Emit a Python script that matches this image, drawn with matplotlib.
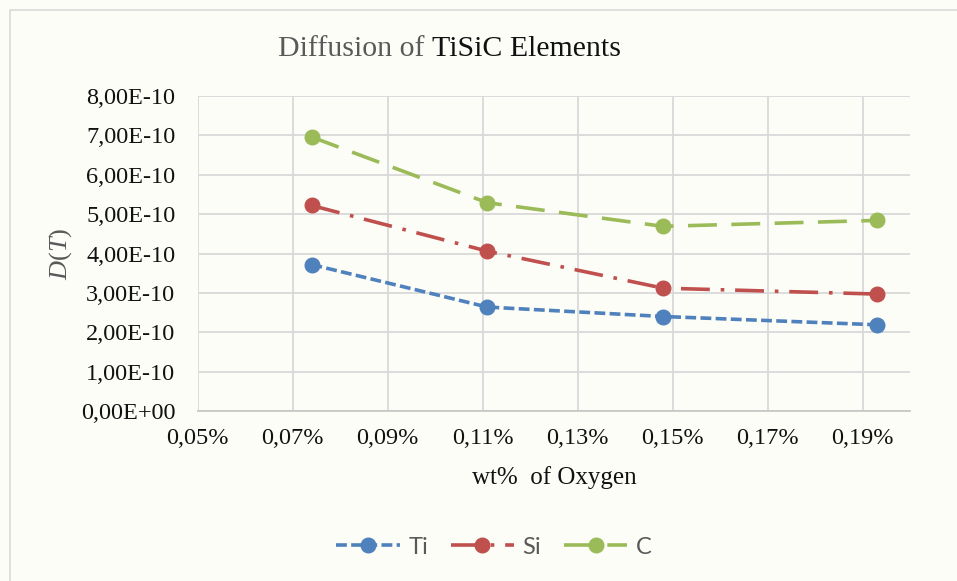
import matplotlib
matplotlib.use("Agg")
import matplotlib.pyplot as plt
from matplotlib.ticker import FuncFormatter, MultipleLocator
from matplotlib.patches import Rectangle

# data
oxygen = [0.074, 0.111, 0.148, 0.193]          # wt% of oxygen
d_ti = [3.72e-10, 2.64e-10, 2.40e-10, 2.19e-10]
d_si = [5.22e-10, 4.06e-10, 3.12e-10, 2.97e-10]
d_c = [6.96e-10, 5.29e-10, 4.69e-10, 4.84e-10]
labels = ["Ti", "Si", "C"]

plt.rcParams["font.family"] = ["Liberation Serif", "DejaVu Serif"]
plt.rcParams["mathtext.fontset"] = "custom"
plt.rcParams["mathtext.rm"] = "Liberation Serif"
plt.rcParams["mathtext.it"] = "Liberation Serif:italic"

bg = "#fdfdf8"
fig = plt.figure(figsize=(9.57, 5.81), dpi=100, facecolor=bg)
W, H = 957, 581
ax = fig.add_axes([197.5 / W, 1 - 411 / H, (910 - 197.5) / W, (411 - 96) / H])
ax.set_facecolor(bg)

# chart border (only left/top visible in the reference)
fig.patches.append(Rectangle((10 / W, -0.1), 1.2, 1 - 10 / H + 0.1,
                             transform=fig.transFigure, fill=False,
                             edgecolor="#d9d9d9", linewidth=1.2))

lw = 2.6
ms = 10.5
ax.plot(oxygen, d_ti, color="#4f81bd", lw=lw, ls=(0, (3, 1.2)), marker="o", ms=ms, label=labels[0])
ax.plot(oxygen, d_si, color="#c0504d", lw=lw, ls=(0, (8, 3, 1, 3)), marker="o", ms=ms, label=labels[1])
ax.plot(oxygen, d_c, color="#9bbb59", lw=lw, ls=(0, (8, 4)), marker="o", ms=ms, label=labels[2])

ax.set_xlim(0.05, 0.20)
ax.set_ylim(0, 8e-10)
ax.yaxis.set_major_locator(MultipleLocator(1e-10))
ax.xaxis.set_major_formatter(FuncFormatter(lambda v, p: f"{v:.2f}%".replace(".", ",")))
ax.yaxis.set_major_formatter(FuncFormatter(lambda v, p: f"{v:.2E}".replace(".", ",")))
ax.set_xticks([0.05, 0.07, 0.09, 0.11, 0.13, 0.15, 0.17, 0.19])

ax.grid(True, color="#d9d9d9", lw=1.3)
ax.set_axisbelow(True)
for s in ["top", "right", "left"]:
    ax.spines[s].set_visible(False)
ax.spines["bottom"].set_color("#c8c8c8")
ax.spines["bottom"].set_linewidth(1.3)
ax.tick_params(length=0, labelsize=17.5, colors="#111111")
ax.tick_params(axis="y", pad=16)
ax.tick_params(axis="x", pad=12)

# title in two colours
t1 = fig.text(278 / W, 1 - 56 / H, "Diffusion of ", fontsize=21.5, color="#595959", ha="left", va="baseline")
fig.canvas.draw()
ax.annotate("TiSiC Elements", xy=(1, 0), xycoords=t1, fontsize=21.5, color="#111111",
            ha="left", va="bottom", annotation_clip=False)

fig.text(554 / W, 1 - 478 / H, "wt%  of Oxygen", fontsize=18, color="#111111", ha="center", va="center")
fig.text(61 / W, 1 - 254 / H, "$D(T)$", fontsize=19, color="#595959", ha="center", va="center", rotation=90)

fig.legend(loc="center", bbox_to_anchor=(494 / W, 1 - 547 / H), ncol=3, frameon=False,
           prop={"family": "Lato", "size": 17}, labelcolor="#595959",
           handlelength=2.7, columnspacing=0.95, handletextpad=0.35)

fig.savefig("out.png", dpi=100, facecolor=bg)
